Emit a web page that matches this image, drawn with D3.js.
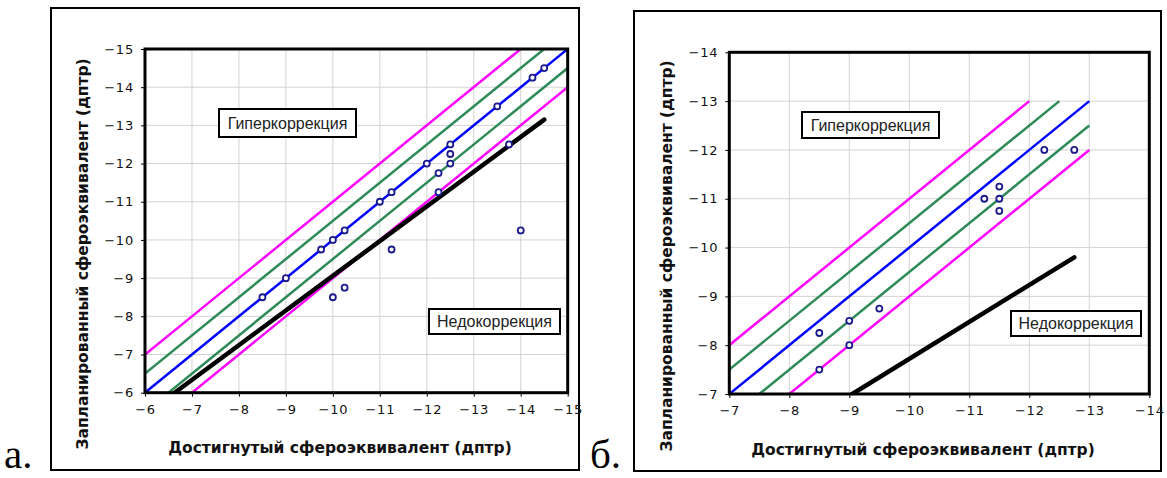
<!DOCTYPE html>
<html>
<head>
<meta charset="utf-8">
<script src="https://cdn.jsdelivr.net/npm/d3@7"></script>
<style>
  html, body { margin: 0; padding: 0; background: #fff; }
  svg { display: block; }
</style>
</head>
<body>
<svg id="fig" width="1167" height="478"></svg>
<script>
// ---- Panel "а": planned vs achieved spherical equivalent ----
const ticksA = [-6, -7, -8, -9, -10, -11, -12, -13, -14, -15];
const achievedA = [-8.5, -9, -9.75, -10, -10.25, -10, -10.25, -11, -11.25, -11.25,
                   -12, -12.25, -12.25, -12.5, -12.5, -12.5, -13.5, -13.75, -14, -14.25, -14.5];
const plannedA  = [-8.5, -9, -9.75, -10, -10.25, -8.5, -8.75, -11, -11.25, -9.75,
                   -12, -11.75, -11.25, -12, -12.25, -12.5, -13.5, -12.5, -10.25, -14.25, -14.5];
// reference lines: start/end in diopters
const magentaUpA = { x: [-6, -14],   y: [-7, -15] };
const greenUpA   = { x: [-6, -14.5], y: [-6.5, -15] };
const blueA      = { x: [-6, -15],   y: [-6, -15] };
const greenLoA   = { x: [-6.5, -15], y: [-6, -14.5] };
const magentaLoA = { x: [-7, -15],   y: [-6, -14] };
const trendA     = { x: [-6.63, -14.5], y: [-6, -13.15] };

// ---- Panel "б" ----
const ticksBx = [-7, -8, -9, -10, -11, -12, -13, -14];
const ticksBy = [-7, -8, -9, -10, -11, -12, -13, -14];
const achievedB = [-8.5, -8.5, -9, -9, -9.5, -11.25, -11.5, -11.5, -11.5, -12.25, -12.75];
const plannedB  = [-8.25, -7.5, -8.5, -8, -8.75, -11, -11.25, -11, -10.75, -12, -12];
const magentaUpB = { x: [-7, -12],   y: [-8, -13] };
const greenUpB   = { x: [-7, -12.5], y: [-7.5, -13] };
const blueB      = { x: [-7, -13],   y: [-7, -13] };
const greenLoB   = { x: [-7.5, -13], y: [-7, -12.5] };
const magentaLoB = { x: [-8, -13],   y: [-7, -12] };
const trendB     = { x: [-9.05, -12.75], y: [-7, -9.8] };

const xTitle = "Достигнутый сфероэквивалент (дптр)";
const yTitle = "Запланированный сфероэквивалент (дптр)";
const overLabel = "Гиперкоррекция";
const underLabel = "Недокоррекция";

const svg = d3.select("#fig");

function panel(cfg) {
  const g = svg.append("g");
  // outer frame
  g.append("rect")
    .attr("x", cfg.frame[0]).attr("y", cfg.frame[1])
    .attr("width", cfg.frame[2]).attr("height", cfg.frame[3])
    .attr("fill", "#fff").attr("stroke", "#000").attr("stroke-width", 2);

  const x = d3.scaleLinear().domain(cfg.xDomain).range([cfg.plot.left, cfg.plot.right]);
  const y = d3.scaleLinear().domain(cfg.yDomain).range([cfg.plot.bottom, cfg.plot.top]);

  const clipId = "clip" + cfg.id;
  g.append("clipPath").attr("id", clipId).append("rect")
    .attr("x", cfg.plot.left).attr("y", cfg.plot.top)
    .attr("width", cfg.plot.right - cfg.plot.left)
    .attr("height", cfg.plot.bottom - cfg.plot.top);

  // grid
  const grid = g.append("g");
  grid.selectAll("line.gx").data(cfg.xTicks).join("line")
    .attr("x1", d => x(d)).attr("x2", d => x(d))
    .attr("y1", cfg.plot.top).attr("y2", cfg.plot.bottom)
    .attr("stroke", "#d3d3d3").attr("stroke-width", 1);
  grid.selectAll("line.gy").data(cfg.yTicks).join("line")
    .attr("y1", d => y(d)).attr("y2", d => y(d))
    .attr("x1", cfg.plot.left).attr("x2", cfg.plot.right)
    .attr("stroke", "#d3d3d3").attr("stroke-width", 1);

  // reference and trend lines
  const lines = g.append("g").attr("clip-path", `url(#${clipId})`);
  cfg.lines.forEach(l => {
    lines.append("line")
      .attr("x1", x(l.d.x[0])).attr("y1", y(l.d.y[0]))
      .attr("x2", x(l.d.x[1])).attr("y2", y(l.d.y[1]))
      .attr("stroke", l.color).attr("stroke-width", l.w)
      .attr("stroke-linecap", l.cap || "butt");
  });

  // axes
  const xAxis = d3.axisBottom(x).tickValues(cfg.xTicks).tickSize(4).tickSizeOuter(0).tickPadding(6)
    .tickFormat(d3.format("d"));
  const yAxis = d3.axisLeft(y).tickValues(cfg.yTicks).tickSize(4).tickSizeOuter(0).tickPadding(7)
    .tickFormat(d3.format("d"));
  const gx = g.append("g").attr("transform", `translate(0,${cfg.plot.bottom})`).call(xAxis);
  const gy = g.append("g").attr("transform", `translate(${cfg.plot.left},0)`).call(yAxis);
  [gx, gy].forEach(a => {
    a.select(".domain").remove();
    a.selectAll(".tick line").attr("stroke", "#000").attr("stroke-width", 1);
    a.selectAll(".tick text")
      .attr("fill", "#111")
      .style("font-family", "'DejaVu Sans', Verdana, sans-serif")
      .style("font-size", "13px")
      .style("letter-spacing", "0.8px");
  });
  gx.selectAll(".tick text").attr("dy", "0.85em");

  // points
  g.append("g").selectAll("circle").data(cfg.px.map((v, i) => [v, cfg.py[i]])).join("circle")
    .attr("cx", d => x(d[0])).attr("cy", d => y(d[1])).attr("r", 3)
    .attr("fill", "#fff").attr("stroke", "#1a1a8c").attr("stroke-width", 1.8);

  // plot border
  g.append("rect")
    .attr("x", cfg.plot.left).attr("y", cfg.plot.top)
    .attr("width", cfg.plot.right - cfg.plot.left)
    .attr("height", cfg.plot.bottom - cfg.plot.top)
    .attr("fill", "none").attr("stroke", "#000").attr("stroke-width", 3);

  // annotation boxes
  cfg.boxes.forEach(b => {
    g.append("rect").attr("x", b.x).attr("y", b.y).attr("width", b.w).attr("height", b.h)
      .attr("fill", "#fff").attr("stroke", "#000").attr("stroke-width", 2);
    g.append("text").attr("x", b.x + b.w / 2).attr("y", b.y + b.h / 2 + 5.5)
      .attr("text-anchor", "middle")
      .style("font-family", "'Liberation Sans', Arial, sans-serif")
      .style("font-size", "16px").attr("fill", "#222").text(b.text);
  });

  // axis titles
  g.append("text").attr("x", cfg.xTitlePos[0]).attr("y", cfg.xTitlePos[1])
    .attr("text-anchor", "middle")
    .style("font-family", "'DejaVu Sans', Verdana, sans-serif")
    .style("font-size", "15.5px").style("font-weight", "bold").attr("fill", "#111").text(xTitle);
  g.append("text")
    .attr("transform", `translate(${cfg.yTitlePos[0]},${cfg.yTitlePos[1]}) rotate(-90)`)
    .attr("text-anchor", "middle")
    .style("font-family", "'DejaVu Sans', Verdana, sans-serif")
    .style("font-size", "15.5px").style("font-weight", "bold").attr("fill", "#111").text(yTitle);

  // panel letter
  svg.append("text").attr("x", cfg.letterPos[0]).attr("y", cfg.letterPos[1])
    .style("font-family", "'Liberation Serif', 'Times New Roman', serif")
    .style("font-size", "41px").text(cfg.letter);
}

panel({
  id: "A", letter: "а.", letterPos: [4, 468],
  frame: [51, 8, 528, 462],
  plot: { left: 145, right: 567.7, top: 49, bottom: 392.7 },
  xDomain: [-6, -15], yDomain: [-6, -15],
  xTicks: ticksA, yTicks: ticksA,
  px: achievedA, py: plannedA,
  lines: [
    { d: magentaUpA, color: "#ff00ff", w: 2.5 },
    { d: greenUpA, color: "#2e8b57", w: 2.5 },
    { d: blueA, color: "#0000ff", w: 2.5 },
    { d: greenLoA, color: "#2e8b57", w: 2.5 },
    { d: magentaLoA, color: "#ff00ff", w: 2.5 },
    { d: trendA, color: "#000", w: 4.5, cap: "round" }
  ],
  boxes: [
    { x: 219, y: 109, w: 137, h: 28, text: overLabel },
    { x: 429, y: 309, w: 131, h: 25, text: underLabel }
  ],
  xTitlePos: [340, 453], yTitlePos: [88, 254]
});

panel({
  id: "B", letter: "б.", letterPos: [590, 468],
  frame: [634, 11, 527, 460],
  plot: { left: 729.3, right: 1149.3, top: 52.3, bottom: 394 },
  xDomain: [-7, -14], yDomain: [-7, -14],
  xTicks: ticksBx, yTicks: ticksBy,
  px: achievedB, py: plannedB,
  lines: [
    { d: magentaUpB, color: "#ff00ff", w: 2.5 },
    { d: greenUpB, color: "#2e8b57", w: 2.5 },
    { d: blueB, color: "#0000ff", w: 2.5 },
    { d: greenLoB, color: "#2e8b57", w: 2.5 },
    { d: magentaLoB, color: "#ff00ff", w: 2.5 },
    { d: trendB, color: "#000", w: 4.5, cap: "round" }
  ],
  boxes: [
    { x: 802, y: 112, w: 137, h: 26, text: overLabel },
    { x: 1011, y: 311, w: 130, h: 25, text: underLabel }
  ],
  xTitlePos: [923, 455], yTitlePos: [672, 256]
});
</script>
</body>
</html>
